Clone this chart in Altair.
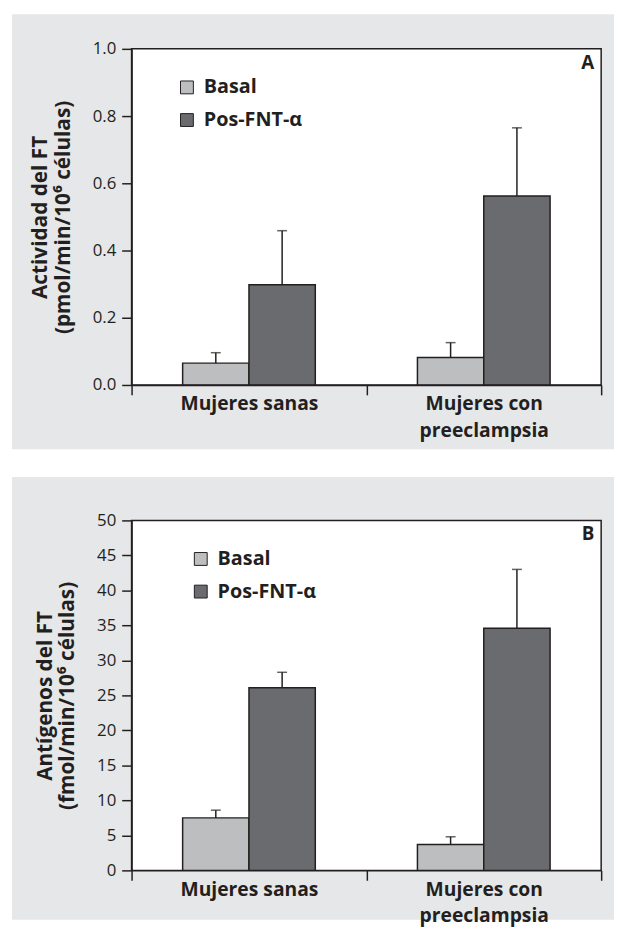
import altair as alt
import pandas as pd

# ---- data ----
groups = ["Mujeres sanas", "Mujeres con preeclampsia"]
conditions = ["Basal", "Pos-FNT-α"]

a_basal = [0.065, 0.082]
a_basal_err = [0.031, 0.044]
a_pos = [0.298, 0.562]
a_pos_err = [0.161, 0.203]

b_basal = [7.5, 3.7]
b_basal_err = [1.1, 1.1]
b_pos = [26.1, 34.6]
b_pos_err = [2.2, 8.4]

a_ticks = [0.0, 0.2, 0.4, 0.6, 0.8, 1.0]
b_ticks = [0, 5, 10, 15, 20, 25, 30, 35, 40, 45, 50]

a_title = ["Actividad del FT", "(pmol/min/10⁶ células)"]
b_title = ["Antígenos del FT", "(fmol/min/10⁶ células)"]
panel_letters = ["A", "B"]

FONT = "Open Sans"
INK = "#231f20"
BG = "#e6e7e8"
COLORS = ["#bdbec0", "#6a6b6e"]
W = 475


def make_df(basal, basal_err, pos, pos_err):
    rows = []
    for i, g in enumerate(groups):
        rows.append({"group": g, "cond": conditions[0], "v": basal[i], "top": basal[i] + basal_err[i]})
        rows.append({"group": g, "cond": conditions[1], "v": pos[i], "top": pos[i] + pos_err[i]})
    return pd.DataFrame(rows)


def panel(df, ticks, dmax, fmt, title, letter, H, gray_top, gray_bottom, legend_x):
    xaxis = alt.Axis(labelExpr="datum.label == 'Mujeres con preeclampsia' ? ['Mujeres con', 'preeclampsia'] : datum.label",
                     labelFont=FONT, labelFontSize=19.5, labelFontWeight="bold", labelColor=INK,
                     labelAngle=0, labelLineHeight=27, labelPadding=0,
                     tickBand="extent", tickSize=10, tickColor=INK, tickWidth=1.5,
                     domainColor=INK, domainWidth=1.5, zindex=1, labelBaseline="top")
    xsc = alt.Scale(paddingInner=0, paddingOuter=0)
    xo = alt.XOffset("cond:N", sort=conditions, scale=alt.Scale(paddingOuter=0.77, paddingInner=0))
    yaxis = alt.Axis(values=ticks, format=fmt, title=title, grid=False, labelOverlap=False,
                     labelFont=FONT, labelFontSize=17, labelColor=INK, labelPadding=6,
                     tickSize=10, tickColor=INK, tickWidth=1.5,
                     domainColor=INK, domainWidth=1.5,
                     titleFont=FONT, titleFontSize=21, titleFontWeight="bold", titleColor=INK,
                     titleLineHeight=23, titlePadding=19, zindex=1)
    ysc = alt.Scale(domain=[0, dmax], nice=False)

    def X():
        return alt.X("group:N", sort=groups, title=None, scale=xsc, axis=xaxis)

    one = alt.Data(values=[{"k": 1}])
    gray = alt.Chart(one).mark_rect(fill=BG).encode(
        x=alt.value(-121), x2=alt.value(W + 13), y=alt.value(gray_top), y2=alt.value(H + gray_bottom))
    frame = alt.Chart(one).mark_rect(fill="white", stroke=INK, strokeWidth=1.5).encode(
        x=alt.value(0), x2=alt.value(W), y=alt.value(0), y2=alt.value(H))

    base = alt.Chart(df)
    bars = base.mark_bar(stroke=INK, strokeWidth=1.5).encode(
        x=X(), xOffset=xo, y=alt.Y("v:Q", scale=ysc, axis=yaxis, title=title),
        fill=alt.Fill("cond:N", sort=conditions,
                      scale=alt.Scale(domain=conditions, range=COLORS),
                      legend=alt.Legend(title=None, orient="none", legendX=legend_x, legendY=29,
                                        symbolType="square", symbolSize=169, symbolStrokeColor=INK,
                                        symbolStrokeWidth=1, labelFont=FONT, labelFontSize=20,
                                        labelFontWeight="bold", labelColor=INK, labelOffset=7,
                                        rowPadding=13, padding=0)))
    rule = base.mark_rule(color=INK, strokeWidth=1.5).encode(
        x=X(), xOffset=xo, y=alt.Y("v:Q", scale=ysc, axis=yaxis, title=title), y2="top:Q")
    cap = base.mark_tick(color=INK, thickness=1.5, size=10, orient="horizontal").encode(
        x=X(), xOffset=xo, y=alt.Y("top:Q", scale=ysc, axis=yaxis, title=title))
    lab = alt.Chart(alt.Data(values=[{"t": letter}])).mark_text(
        font=FONT, fontSize=19, fontWeight="bold", color=INK, align="right", baseline="alphabetic"
    ).encode(text="t:N", x=alt.value(W - 7), y=alt.value(20))

    return alt.layer(gray, frame, bars, rule, cap, lab).properties(width=W, height=H)


pa = panel(make_df(a_basal, a_basal_err, a_pos, a_pos_err), a_ticks, 1.0, ".1f", a_title,
           panel_letters[0], 340, -35, 65, 46)
pb = panel(make_df(b_basal, b_basal_err, b_pos, b_pos_err), b_ticks, 50, "d", b_title,
           panel_letters[1], 354, -44, 50, 60)

chart = alt.vconcat(pa, pb, spacing=26).resolve_scale(fill="independent", x="independent", y="independent") \
    .resolve_legend(fill="independent").properties(padding={"left": 3, "top": 0, "right": 0, "bottom": 0}) \
    .configure_view(stroke=None).configure(background="white")

chart.save("out.html", embed_options={"renderer": "svg", "actions": False})
